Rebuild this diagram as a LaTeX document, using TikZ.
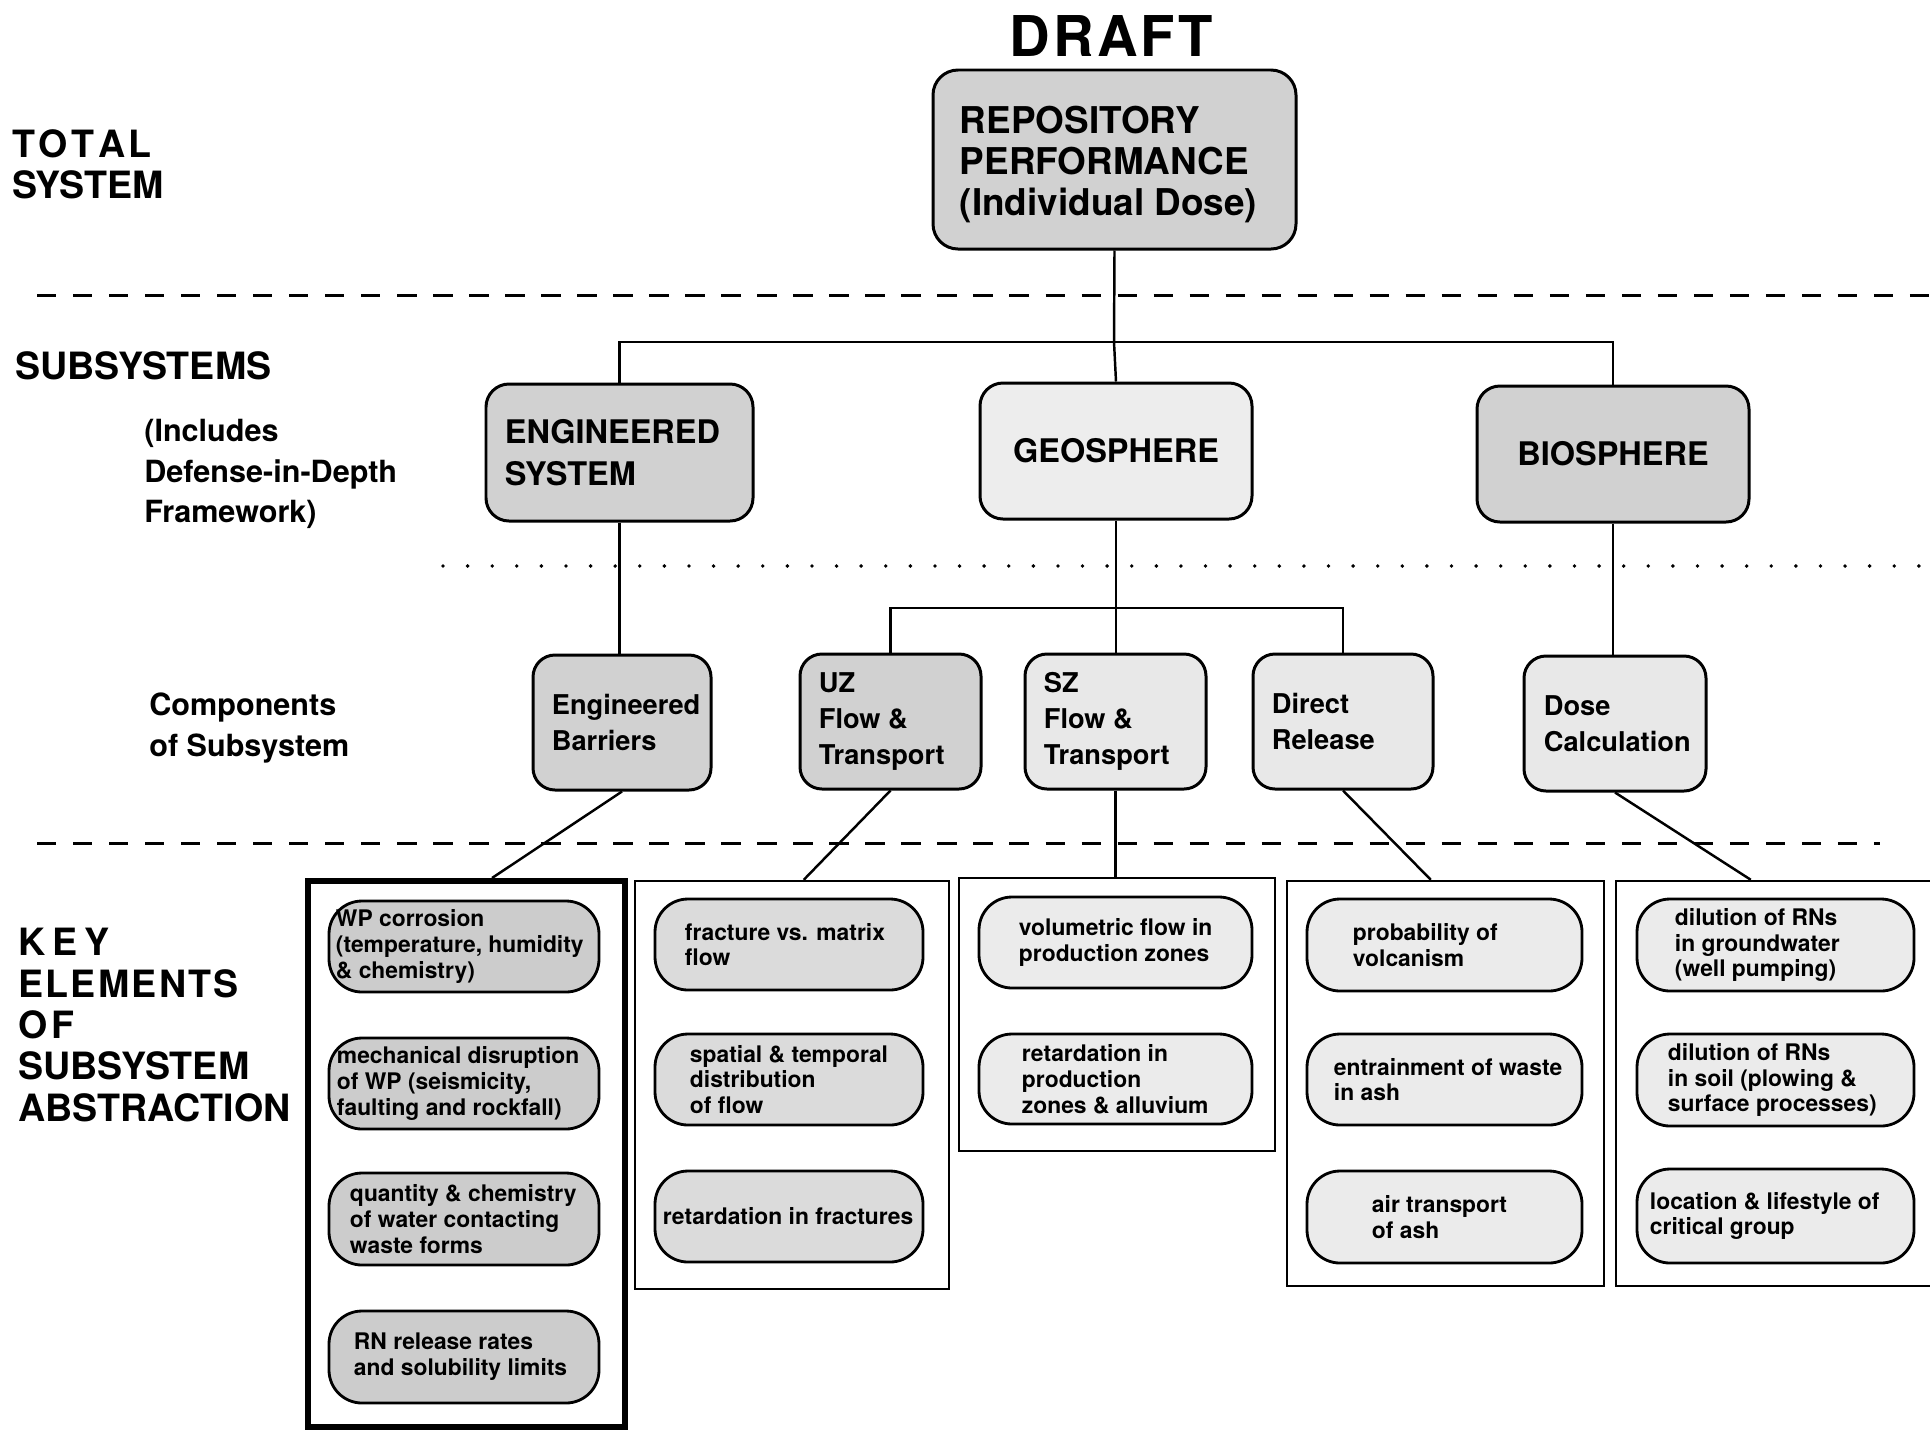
\documentclass[tikz,border=0pt]{standalone}
\usepackage{fontspec}
\setmainfont{TeX Gyre Heros}
\usetikzlibrary{calc}
\newcommand\fTop{\fontsize{21pt}{23.3pt}\selectfont\bfseries}
\newcommand\fSub{\fontsize{18.5pt}{23.7pt}\selectfont\bfseries}
\newcommand\fComp{\fontsize{15.5pt}{20.5pt}\selectfont\bfseries}
\newcommand\fEl{\fontsize{13pt}{14.7pt}\selectfont\bfseries}
\newcommand\fLab{\fontsize{21.4pt}{23.5pt}\selectfont\bfseries}
\newcommand\fLabS{\fontsize{17.4pt}{23.2pt}\selectfont\bfseries}
% #1 style, #2 name, #3 x1, #4 y1, #5 x2, #6 y2, #7 left pad, #8 font, #9 text
\newcommand\rbx[9]{%
  \node[#1, minimum width={(#5-#3)*0.02cm}, minimum height={(#6-#4)*0.02cm}] (#2) at ({(#3+#5)/2},{(#4+#6)/2}) {};
  \node[txt, font=#8] (#2-t) at ([xshift={#7*0.02cm}]#2.west) {#9};}
\begin{document}
\begin{tikzpicture}[x=0.02cm, y=-0.02cm,
  conn/.style={line width=1.4pt},
  txt/.style={inner sep=0pt, align=left, anchor=west},
  bbase/.style={draw, line width=1.7pt, inner sep=0pt},
  topbox/.style={bbase, fill=black!18, rounded corners=0.5cm},
  subA/.style={bbase, fill=black!18, rounded corners=0.46cm},
  subB/.style={bbase, fill=black!7, rounded corners=0.46cm},
  compA/.style={bbase, fill=black!18, rounded corners=0.44cm},
  compB/.style={bbase, fill=black!9, rounded corners=0.44cm},
  elA/.style={bbase, line width=1.6pt, fill=black!20, rounded corners=0.66cm},
  elM/.style={bbase, line width=1.6pt, fill=black!14, rounded corners=0.66cm},
  elB/.style={bbase, line width=1.6pt, fill=black!8, rounded corners=0.66cm},
  cont/.style={draw, line width=1.4pt, inner sep=0pt},
  contthick/.style={draw, line width=3.4pt, inner sep=0pt},
  dashline/.style={line width=1.7pt, dash pattern=on 11pt off 9.5pt},
  dotline/.style={line width=2.2pt, line cap=round, dash pattern=on 0pt off 14pt}
]
\fill[white] (0,0) rectangle (1930,1431);
\useasboundingbox (0,0) rectangle (1930,1431);

% separator lines
\draw[dashline] (37,295) -- (1935,295);
\draw[dotline] (443,566) -- (1930,566);
\draw[dashline] (37,843) -- (1880,843);

% title
\node[font=\fontsize{32pt}{35pt}\selectfont\bfseries, inner sep=0pt] (draft) at (1111,36) {D\kern2pt R\kern2pt A\kern1pt F\kern2pt T};

% row labels
\node[txt, font=\fLab] (ltotal) at (12,164) {T\kern2pt O\kern2pt T\kern2pt A\kern2pt L\\SYSTEM};
\node[txt, font=\fLab] (lsub) at (15,366) {SUBSYSTEMS};
\node[txt, font=\fLabS] (lincl) at (144,474) {(Includes\\Defense-in-Depth\\Framework)};
\node[txt, font=\fLabS] (lcomp) at (149,728) {Components\\of Subsystem};
\node[txt, font=\fLab] (lkey) at (18,1025) {K\kern4pt E\kern4pt Y\\E\kern1.3pt L\kern1.3pt E\kern1.3pt M\kern1.3pt E\kern1.3pt N\kern1.3pt T\kern1.3pt S\\O\kern2pt F\\SUBSYSTEM\\ABSTRACTION};

% total system
\node[topbox, minimum width={363*0.02cm}, minimum height={179*0.02cm}] (top) at (1114.5,159.5) {};
\node[txt, font=\fTop] (top-t) at ([xshift={28*0.02cm}, yshift={-5*0.02cm}]top.west) {REPOSITORY\\PERFORMANCE\\(Individual Dose)};

% subsystems
\rbx{subA}{es}{486}{384}{753}{521}{20}{\fSub}{ENGINEERED\\SYSTEM}
\node[subB, font=\fSub, minimum width={272*0.02cm}, minimum height={136*0.02cm}] (geo) at (1116,451) {GEOSPHERE};
\node[subA, font=\fSub, minimum width={272*0.02cm}, minimum height={136*0.02cm}] (bio) at (1613,454) {BIOSPHERE};

% components
\rbx{compA}{eb}{533}{655}{711}{790}{20}{\fComp}{Engineered\\Barriers}
\rbx{compA}{uz}{800}{654}{981}{789}{20}{\fComp}{UZ\\Flow \&\\Transport}
\rbx{compB}{sz}{1025}{654}{1206}{789}{20}{\fComp}{SZ\\Flow \&\\Transport}
\rbx{compB}{dr}{1253}{654}{1433}{789}{20}{\fComp}{Direct\\Release}
\rbx{compB}{dose}{1524}{656}{1706}{791}{21}{\fComp}{Dose\\Calculation}

% containers of key elements
\node[contthick, minimum width={317*0.02cm}, minimum height={546*0.02cm}] (k1) at (466.5,1154) {};
\node[cont, minimum width={314*0.02cm}, minimum height={408*0.02cm}] (k2) at (792,1085) {};
\node[cont, minimum width={316*0.02cm}, minimum height={273*0.02cm}] (k3) at (1117,1014.5) {};
\node[cont, minimum width={317*0.02cm}, minimum height={405*0.02cm}] (k4) at (1445.5,1083.5) {};
\node[cont, minimum width={324*0.02cm}, minimum height={405*0.02cm}] (k5) at (1778,1083.5) {};

% key elements
\rbx{elA}{e11}{329}{901}{599}{992}{8}{\fEl}{WP corrosion\\(temperature, humidity\\\& chemistry)}
\rbx{elA}{e12}{329}{1038}{599}{1129}{9}{\fEl}{mechanical disruption\\of WP (seismicity,\\faulting and rockfall)}
\rbx{elA}{e13}{329}{1173}{599}{1265}{22}{\fEl}{quantity \& chemistry\\of water contacting\\waste forms}
\rbx{elA}{e14}{329}{1311}{599}{1403}{26}{\fEl}{RN release rates\\and solubility limits}

\rbx{elM}{e21}{655}{899}{923}{990}{31}{\fEl}{fracture vs. matrix\\flow}
\rbx{elM}{e22}{655}{1034}{923}{1125}{36}{\fEl}{spatial \& temporal\\distribution\\of flow}
\rbx{elM}{e23}{655}{1171}{923}{1262}{9}{\fEl}{retardation in fractures}

\rbx{elB}{e31}{979}{897}{1252}{988}{41}{\fEl}{volumetric flow in\\production zones}
\rbx{elB}{e32}{979}{1034}{1252}{1124}{44}{\fEl}{retardation in\\production\\zones \& alluvium}

\rbx{elB}{e41}{1307}{899}{1582}{991}{47}{\fEl}{probability of\\volcanism}
\rbx{elB}{e42}{1307}{1034}{1582}{1125}{28}{\fEl}{entrainment of waste\\in ash}
\rbx{elB}{e43}{1307}{1171}{1582}{1263}{66}{\fEl}{air transport\\of ash}

\rbx{elB}{e51}{1637}{899}{1914}{991}{39}{\fEl}{dilution of RNs\\in groundwater\\(well pumping)}
\rbx{elB}{e52}{1637}{1034}{1914}{1126}{32}{\fEl}{dilution of RNs\\in soil (plowing \&\\surface processes)}
\rbx{elB}{e53}{1637}{1169}{1914}{1263}{14}{\fEl}{location \& lifestyle of\\critical group}

% connectors
\coordinate (j1) at (1114,342);
\coordinate (j2) at (1115,608);
\draw[conn] (top.south) -- (j1);
\draw[conn] (es.north) -- (es.north |- j1) -- (bio.north |- j1) -- (bio.north);
\draw[conn] (j1) -- (geo.north);
\draw[conn] (es.south) -- (es.south |- eb.north);
\draw[conn] (bio.south) -- (bio.south |- dose.north);
\draw[conn] (geo.south) -- (geo.south |- sz.north);
\draw[conn] (uz.north) |- (j2) -| (dr.north);

\draw[conn] (eb.south) -- ([xshift={187*0.02cm}]k1.north west);
\draw[conn] (uz.south) -- ([xshift={170*0.02cm}]k2.north west);
\draw[conn] (sz.south) -- (sz.south |- k3.north);
\draw[conn] (dr.south) -- ([xshift={145*0.02cm}]k4.north west);
\draw[conn] (dose.south) -- ([xshift={136*0.02cm}]k5.north west);
\end{tikzpicture}
\end{document}
